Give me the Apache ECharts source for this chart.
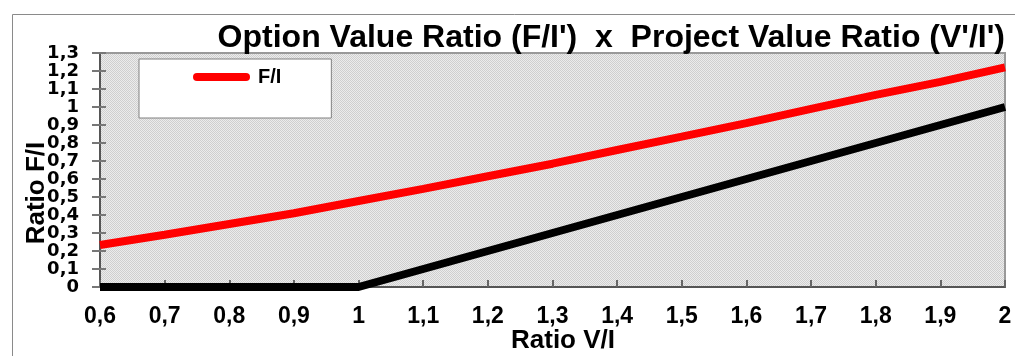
<!DOCTYPE html>
<html>
<head>
<meta charset="utf-8">
<script src="https://cdn.jsdelivr.net/npm/echarts@6/dist/echarts.min.js"></script>
<style>
html,body{margin:0;padding:0;background:#fff;}
#chart{width:1015px;height:356px;}
</style>
</head>
<body>
<div id="chart"></div>
<script>
// Data
const titleText = "Option Value Ratio (F/I')  x  Project Value Ratio (V'/I')";
const xName = "Ratio V/I";
const yName = "Ratio F/I";
const vRatio = [0.6, 0.7, 0.8, 0.9, 1.0, 1.1, 1.2, 1.3, 1.4, 1.5, 1.6, 1.7, 1.8, 1.9, 2.0];
const optionRatio = [0.233, 0.29, 0.35, 0.41, 0.478, 0.545, 0.615, 0.685, 0.761, 0.835, 0.91, 0.99, 1.067, 1.14, 1.22];
const payoffRatio = [0, 0, 0, 0, 0, 0.1, 0.2, 0.3, 0.4, 0.5, 0.6, 0.7, 0.8, 0.9, 1.0];
const seriesNames = ["F/I", "V/I - 1"];

const fmt = v => String(+Number(v).toFixed(1)).replace('.', ',');

// hatched background tile
const tile = document.createElement('canvas');
tile.width = 2; tile.height = 2;
const tctx = tile.getContext('2d');
tctx.fillStyle = '#ececec'; tctx.fillRect(0, 0, 2, 2);
tctx.fillStyle = '#cfcfcf'; tctx.fillRect(0, 0, 1, 1); tctx.fillRect(1, 1, 1, 1);

const chart = echarts.init(document.getElementById('chart'), null, {renderer: 'canvas'});
const boldFont = 'Liberation Sans, Arial, sans-serif';

chart.setOption({
  animation: false,
  backgroundColor: '#fff',
  title: {
    text: titleText,
    right: 10, top: 22, padding: 0,
    textStyle: {fontFamily: boldFont, fontWeight: 'bold', fontSize: 32, color: '#000'},
    z: 10
  },
  legend: {
    data: [seriesNames[0]],
    left: 139, top: 59,
    padding: [8, 50, 31, 54],
    backgroundColor: '#fff',
    borderColor: '#808080', borderWidth: 1,
    itemWidth: 57, itemHeight: 8,
    icon: 'path://M4,0 L53,0 A4,4 0 0 1 53,8 L4,8 A4,4 0 0 1 4,0 Z',
    textStyle: {fontFamily: boldFont, fontWeight: 'bold', fontSize: 20, color: '#000', padding: [0, 0, 0, 3]}
  },
  grid: {
    left: 100, top: 53, right: 10, bottom: 69,
    show: true,
    backgroundColor: {image: tile, repeat: 'repeat'},
    borderColor: '#999', borderWidth: 2
  },
  xAxis: {
    type: 'value', min: 0.6, max: 2, interval: 0.1,
    axisLine: {show: true, onZero: false, lineStyle: {color: '#555', width: 2}},
    axisTick: {show: true, inside: true, length: 7, lineStyle: {color: '#666', width: 2}},
    splitLine: {show: false},
    axisLabel: {
      formatter: fmt, margin: 18, showMinLabel: true, showMaxLabel: true, hideOverlap: false,
      fontFamily: boldFont, fontWeight: 'bold', fontSize: 23, color: '#000'
    }
  },
  yAxis: [{
    type: 'value', min: 0, max: 1.3, interval: 0.1,
    axisLine: {show: true, lineStyle: {color: '#555', width: 2}},
    axisTick: {show: true, inside: false, length: 8, lineStyle: {color: '#777', width: 2}},
    splitLine: {show: false},
    axisLabel: {
      formatter: fmt, margin: 21, showMinLabel: true, showMaxLabel: true, hideOverlap: false,
      fontFamily: 'DejaVu Sans', fontWeight: 'bold', fontSize: 18, color: '#000'
    }
  }, {
    type: 'value', min: 0, max: 1.3, interval: 0.1, position: 'left',
    axisLine: {show: false},
    axisTick: {show: true, inside: true, length: 6, lineStyle: {color: '#777', width: 2}},
    splitLine: {show: false},
    axisLabel: {show: false}
  }],
  graphic: [
    {
      type: 'rect', left: 10, top: 12, z: -10, silent: true,
      shape: {width: 1100, height: 400},
      style: {fill: 'none', stroke: '#8a8a8a', lineWidth: 1}
    },
    {
      type: 'text', x: 37, y: 193, rotation: Math.PI / 2, z: 5,
      style: {text: yName, fontFamily: boldFont, fontWeight: 'bold', fontSize: 26,
              fill: '#000', align: 'center', verticalAlign: 'middle'}
    },
    {
      type: 'text', x: 563, y: 341, z: 5,
      style: {text: xName, fontFamily: boldFont, fontWeight: 'bold', fontSize: 26,
              fill: '#000', align: 'center', verticalAlign: 'middle'}
    }
  ],
  series: [
    {
      name: seriesNames[0], type: 'line', clip: false,
      data: vRatio.map((x, i) => [x, optionRatio[i]]),
      showSymbol: false, symbol: 'none',
      lineStyle: {color: '#ff0000', width: 8},
      itemStyle: {color: '#ff0000'},
      z: 4
    },
    {
      name: seriesNames[1], type: 'line', clip: false,
      data: vRatio.map((x, i) => [x, payoffRatio[i]]),
      showSymbol: false, symbol: 'none',
      lineStyle: {color: '#000', width: 8},
      itemStyle: {color: '#000'},
      z: 3
    }
  ]
});
</script>
</body>
</html>
